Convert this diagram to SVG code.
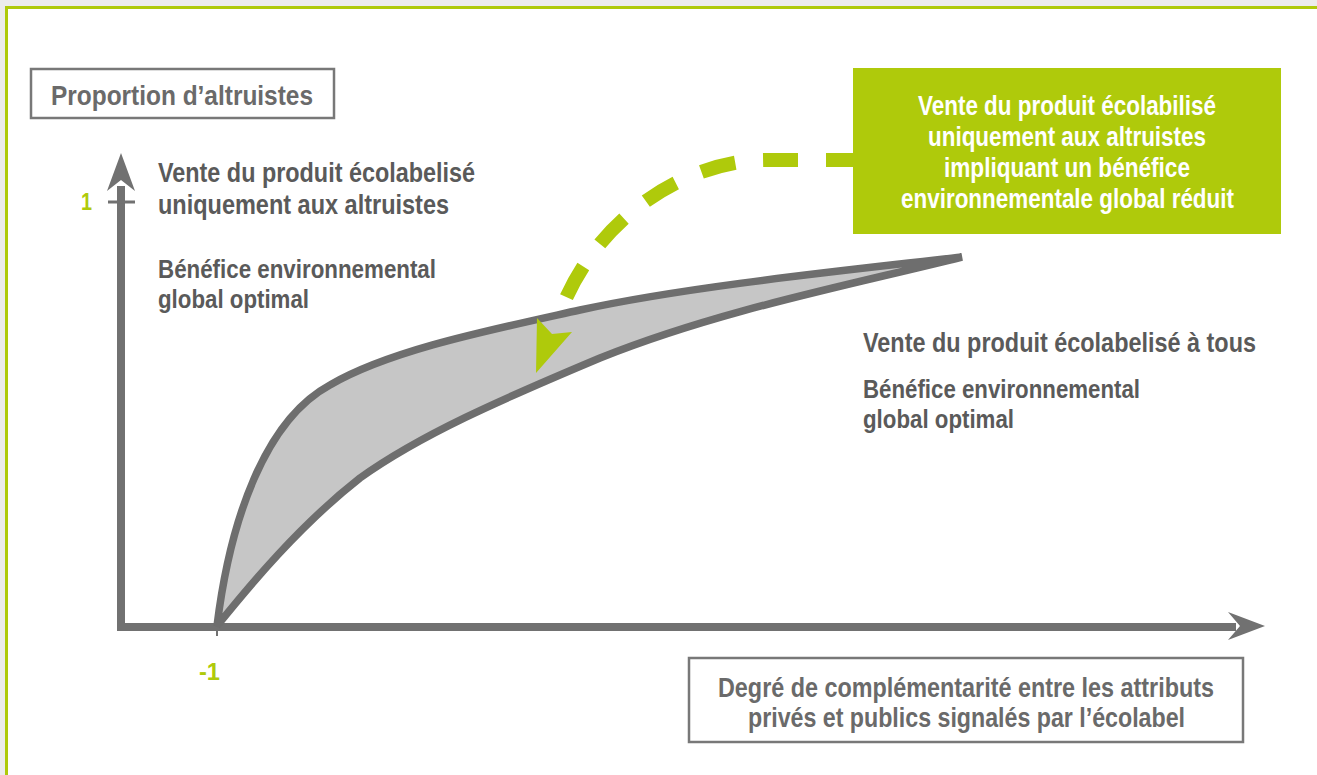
<svg xmlns="http://www.w3.org/2000/svg" width="1317" height="775" viewBox="0 0 1317 775">
<style>
.t{font-family:"Liberation Sans","Arial",sans-serif;font-weight:bold}
.g{fill:#5a5a5a}
.lbl{fill:#6a6a6a}
.w{fill:#ffffff}
.grn{fill:#afca0b}
.box{fill:#ffffff;stroke:#787878;stroke-width:2.5}
.axis{stroke:#717171;stroke-width:8;fill:none}
</style>
<rect x="0" y="0" width="1317" height="775" fill="#ececec"/>
<rect x="5" y="6" width="1312" height="769" fill="#afca0b"/>
<rect x="8" y="9" width="1309" height="766" fill="#ffffff"/>

<g id="axes">
<path class="axis" d="M121,186 L121,627 L1236,627" stroke-linejoin="miter"/>
<polygon points="121,153 135,191 121,180 107,191" fill="#717171"/>
<polygon points="1265,626 1228,612 1240,626 1228,640" fill="#717171"/>
<line x1="108" y1="202" x2="135" y2="202" stroke="#717171" stroke-width="3"/>
<line x1="217" y1="628" x2="217" y2="636" stroke="#717171" stroke-width="2"/>
<text class="t grn" x="81" y="210" font-size="24" textLength="11" lengthAdjust="spacingAndGlyphs">1</text>
<text class="t grn" x="199" y="680" font-size="24" textLength="21" lengthAdjust="spacingAndGlyphs">-1</text>
</g>

<g id="area">
<path d="M217,626 C230,520 265,420 330,385 C390,350 490,330 580,310 C690,286 850,270 962,257 C850,285 720,310 600,358 C500,400 420,435 360,478 C300,525 250,585 217,626 Z" fill="#c6c6c6" stroke="#6e6e6e" stroke-width="7.5" stroke-linejoin="bevel"/>
</g>

<g id="yaxis-label">
<rect class="box" x="31" y="69" width="303" height="49"/>
<text class="t lbl" x="51" y="105" font-size="28" textLength="262" lengthAdjust="spacingAndGlyphs">Proportion d’altruistes</text>
</g>

<g id="xaxis-label">
<rect class="box" x="689" y="658" width="554" height="84"/>
<text class="t lbl" x="718" y="697" font-size="27" textLength="496" lengthAdjust="spacingAndGlyphs">Degré de complémentarité entre les attributs</text>
<text class="t lbl" x="748" y="727" font-size="27" textLength="437" lengthAdjust="spacingAndGlyphs">privés et publics signalés par l’écolabel</text>
</g>

<g id="left-label">
<text class="t g" x="158" y="182" font-size="27" textLength="317" lengthAdjust="spacingAndGlyphs">Vente du produit écolabelisé</text>
<text class="t g" x="158" y="214" font-size="27" textLength="291" lengthAdjust="spacingAndGlyphs">uniquement aux altruistes</text>
<text class="t g" x="158" y="278" font-size="26" textLength="278" lengthAdjust="spacingAndGlyphs">Bénéfice environnemental</text>
<text class="t g" x="158" y="308" font-size="26" textLength="151" lengthAdjust="spacingAndGlyphs">global optimal</text>
</g>

<g id="right-label">
<text class="t g" x="863" y="352" font-size="27" textLength="393" lengthAdjust="spacingAndGlyphs">Vente du produit écolabelisé à tous</text>
<text class="t g" x="863" y="398" font-size="26" textLength="277" lengthAdjust="spacingAndGlyphs">Bénéfice environnemental</text>
<text class="t g" x="863" y="428" font-size="26" textLength="151" lengthAdjust="spacingAndGlyphs">global optimal</text>
</g>

<g id="connectors">
<path d="M853,160 L770,160 C700,158 605,205 563,305" fill="none" stroke="#afca0b" stroke-width="14" stroke-dasharray="35 28" stroke-dashoffset="8"/>
<polygon points="537,318 552,334 572,332 536,373" fill="#afca0b"/>
</g>

<g id="callout">
<rect x="853" y="68" width="428" height="166" fill="#afca0b"/>
<text class="t w" x="918" y="115" font-size="27" textLength="298" lengthAdjust="spacingAndGlyphs">Vente du produit écolabilisé</text>
<text class="t w" x="928" y="146" font-size="27" textLength="278" lengthAdjust="spacingAndGlyphs">uniquement aux altruistes</text>
<text class="t w" x="944" y="177" font-size="27" textLength="246" lengthAdjust="spacingAndGlyphs">impliquant un bénéfice</text>
<text class="t w" x="901" y="208" font-size="27" textLength="333" lengthAdjust="spacingAndGlyphs">environnementale global réduit</text>
</g>
</svg>
